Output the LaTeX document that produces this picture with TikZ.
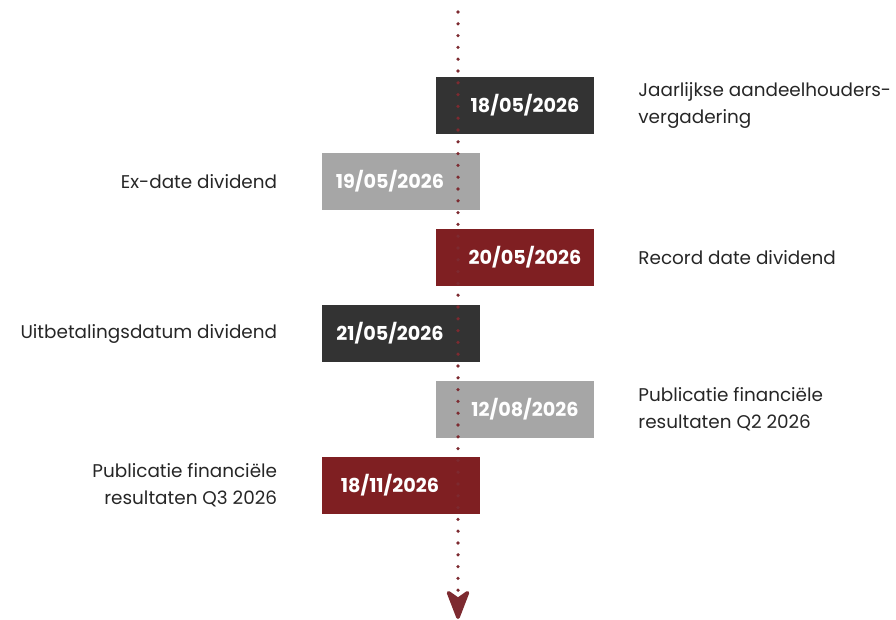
\documentclass[tikz,border=0pt]{standalone}
\usepackage{fontspec}
\setmainfont{Poppins}
\usetikzlibrary{arrows.meta,positioning}
\definecolor{darkbox}{HTML}{333333}
\definecolor{greybox}{HTML}{A6A6A6}
\definecolor{redbox}{HTML}{7F1F22}
\definecolor{dotred}{HTML}{7D2A30}

\begin{document}
\begin{tikzpicture}[x=1pt,y=-1pt,
    datebox/.style={minimum width=158pt,minimum height=57pt,inner sep=0pt},
    datetext/.style={text=white,font=\bfseries\fontsize{19.2}{22}\selectfont},
    event/.style={text=black!85,inner sep=0pt,font=\fontsize{18.4}{27}\selectfont}]
    \useasboundingbox (0,0) rectangle (896,620);

    % boxes
    \node[datebox,fill=darkbox](box1) at (515,105.5) {};
    \node[datebox,fill=greybox](box2) at (400.5,181.5) {};
    \node[datebox,fill=redbox](box3) at (515,257.5) {};
    \node[datebox,fill=darkbox](box4) at (400.5,333.5) {};
    \node[datebox,fill=greybox](box5) at (515,409.5) {};
    \node[datebox,fill=redbox](box6) at (400.5,485.5) {};

    % dates
    \node[datetext](date1) at (525,105.5) {18/05/2026};
    \node[datetext](date2) at (390,181.5) {19/05/2026};
    \node[datetext](date3) at (525,257.5) {20/05/2026};
    \node[datetext](date4) at (390,333.5) {21/05/2026};
    \node[datetext](date5) at (525,409.5) {12/08/2026};
    \node[datetext](date6) at (390,485.5) {18/11/2026};

    % events
    \node[event,align=left,right=44pt of box1](ev1) {Jaarlijkse aandeelhouders-\\vergadering};
    \node[event,align=right,left=44pt of box2](ev2) {Ex-date dividend};
    \node[event,align=left,right=44pt of box3](ev3) {Record date dividend};
    \node[event,align=right,left=44pt of box4](ev4) {Uitbetalingsdatum dividend};
    \node[event,align=left,right=44pt of box5](ev5) {Publicatie financiële\\resultaten Q2 2026};
    \node[event,align=right,left=44pt of box6](ev6) {Publicatie financiële\\resultaten Q3 2026};

    % time line
    \coordinate (start) at (458,12);
    \coordinate (end) at (458,619);
    \draw[dotred,line width=3.6pt,line cap=round,dash pattern=on 0pt off 11.8pt,
        -{Stealth[length=34pt,width=26pt,inset=9pt,round=false]}] (start) -- (end);
\end{tikzpicture}
\end{document}
